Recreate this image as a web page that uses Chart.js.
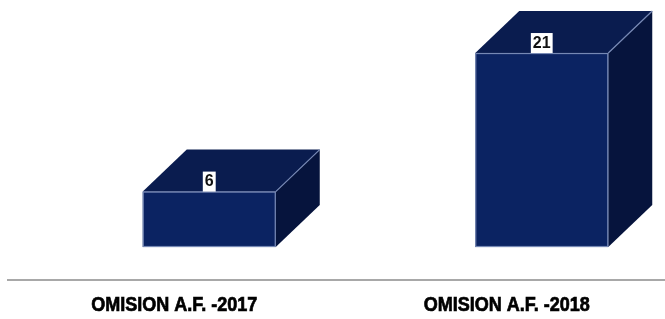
<!DOCTYPE html>
<html>
<head>
<meta charset="utf-8">
<script src="https://cdn.jsdelivr.net/npm/chart.js@4"></script>
<style>
  html, body { margin: 0; padding: 0; background: #fff; overflow: hidden; }
  #wrap { width: 673px; height: 319px; }
</style>
</head>
<body>
<div id="wrap"><canvas id="chart"></canvas></div>
<script>
// chart data
const categories = ["OMISION A.F. -2017", "OMISION A.F. -2018"];
const omisiones = [6, 21];

// box look
const frontColor = "#0b2362";
const topColor = "#0a1c4f";
const sideColor = "#06143d";
const edgeColor = "#7688b4";
const depthX = 44, depthY = 42, shiftX = 35;

// draws every bar as a 3D box, using the bar element positions from chart.js
const boxPlugin = {
    id: "box3d",
    afterDatasetsDraw(chart) {
        const ctx = chart.ctx;
        const meta = chart.getDatasetMeta(0);
        meta.data.forEach(function (bar, i) {
            const p = bar.getProps(["x", "y", "base", "width"], true);
            const left = p.x - p.width / 2 + shiftX;
            const right = p.x + p.width / 2 + shiftX;
            const top = p.y, bottom = p.base;
            ctx.save();
            // side face
            ctx.beginPath();
            ctx.moveTo(right, top);
            ctx.lineTo(right + depthX, top - depthY);
            ctx.lineTo(right + depthX, bottom - depthY);
            ctx.lineTo(right, bottom);
            ctx.closePath();
            ctx.fillStyle = sideColor;
            ctx.fill();
            // top face
            ctx.beginPath();
            ctx.moveTo(left, top);
            ctx.lineTo(left + depthX, top - depthY);
            ctx.lineTo(right + depthX, top - depthY);
            ctx.lineTo(right, top);
            ctx.closePath();
            ctx.fillStyle = topColor;
            ctx.fill();
            // front face
            ctx.fillStyle = frontColor;
            ctx.fillRect(left, top, right - left, bottom - top);
            // light edges
            ctx.strokeStyle = edgeColor;
            ctx.lineWidth = 1.2;
            ctx.strokeRect(left + 0.5, top + 0.5, right - left - 1, bottom - top - 1);
            ctx.beginPath();
            ctx.moveTo(right, top);
            ctx.lineTo(right + depthX, top - depthY);
            ctx.stroke();
            // value label
            const txt = String(omisiones[i]);
            ctx.font = "bold 16px 'Liberation Sans', Arial, sans-serif";
            const w = ctx.measureText(txt).width + 4;
            const cx = (left + right) / 2;
            ctx.fillStyle = "#ffffff";
            ctx.fillRect(cx - w / 2, top - 20, w, 20);
            ctx.fillStyle = "#111111";
            ctx.textAlign = "center";
            ctx.textBaseline = "middle";
            ctx.fillText(txt, cx, top - 9.5);
            ctx.restore();
        });
    }
};

// category labels in a narrow bold face (squeezed Liberation Sans)
const labelPlugin = {
    id: "narrowLabels",
    afterDraw(chart) {
        const ctx = chart.ctx;
        const xs = chart.scales.x;
        ctx.save();
        ctx.font = "bold 20px 'Liberation Sans', Arial, sans-serif";
        ctx.fillStyle = "#000000";
        ctx.strokeStyle = "#000000";
        ctx.lineWidth = 0.7;
        ctx.textAlign = "center";
        ctx.textBaseline = "alphabetic";
        categories.forEach(function (lab, i) {
            const x = xs.getPixelForTick(i);
            ctx.save();
            ctx.translate(x, chart.chartArea.bottom + 31);
            ctx.scale(0.9, 1);
            ctx.fillText(lab, 0, 0);
            ctx.strokeText(lab, 0, 0);
            ctx.restore();
        });
        ctx.restore();
    }
};

const ctx = document.getElementById("chart").getContext("2d");
new Chart(ctx, {
    type: "bar",
    data: {
        labels: categories,
        datasets: [{
            label: "Omision",
            data: omisiones,
            base: 0,
            backgroundColor: "rgba(0,0,0,0)",
            barPercentage: 0.4,
            categoryPercentage: 1
        }]
    },
    options: {
        responsive: true,
        maintainAspectRatio: false,
        animation: false,
        layout: { padding: { left: 8, right: 0, top: 0, bottom: 0 } },
        plugins: {
            legend: { display: false },
            tooltip: { enabled: false }
        },
        scales: {
            x: {
                grid: { display: false },
                border: { display: true, color: "#a8a8a8", width: 2 },
                ticks: { display: false },
                afterFit: function (scale) { scale.height = 39; }
            },
            y: {
                display: false,
                min: -3.57,
                max: 26.74
            }
        }
    },
    plugins: [boxPlugin, labelPlugin]
});
</script>
</body>
</html>
